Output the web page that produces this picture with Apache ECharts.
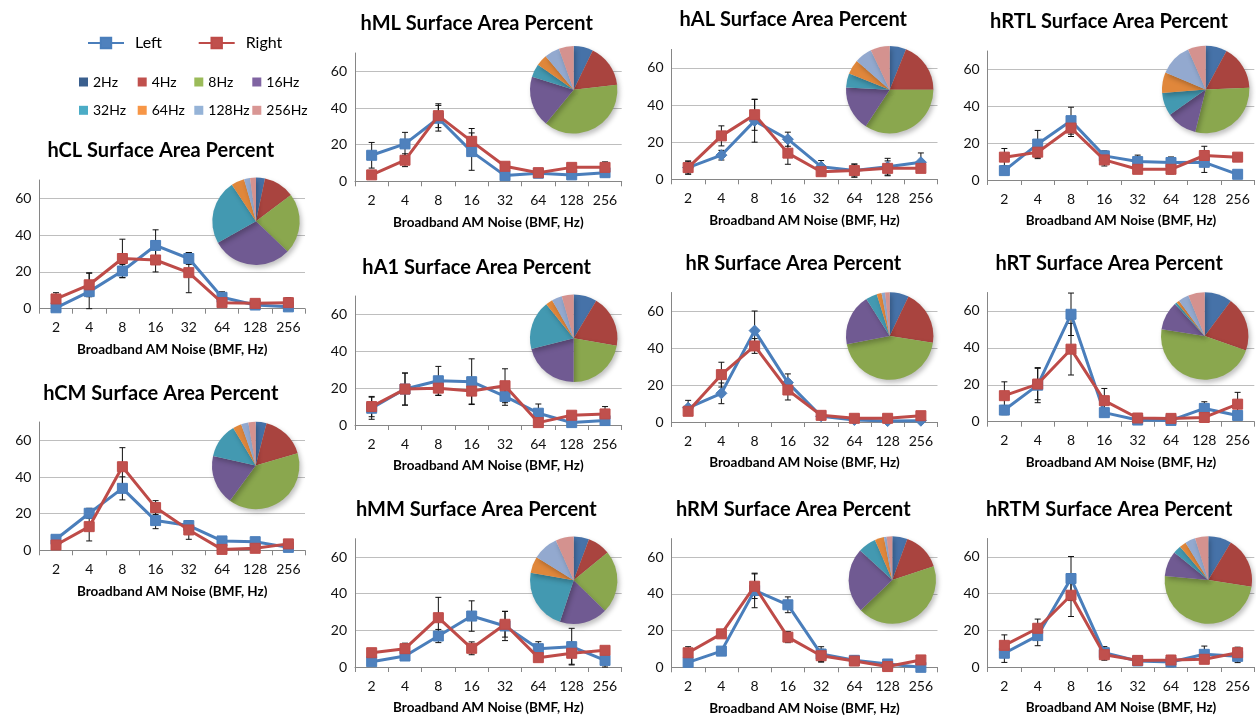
<!DOCTYPE html>
<html><head><meta charset="utf-8">
<script src="https://cdn.jsdelivr.net/npm/echarts@6/dist/echarts.min.js"></script>
<style>html,body{margin:0;padding:0;background:#fff}#c{width:1256px;height:715px}</style>
</head><body><div id="c"></div>
<script>
// ---------- data ----------
const categories = ['2', '4', '8', '16', '32', '64', '128', '256'];
const bandLabels = ['2Hz', '4Hz', '8Hz', '16Hz', '32Hz', '64Hz', '128Hz', '256Hz'];
const seriesNames = ['Left', 'Right'];
const yMin = 0, yMax = 70, yInterval = 20;
const xAxisTitle = 'Broadband AM Noise (BMF, Hz)';
const titleSuffix = ' Surface Area Percent';

const hCL_left = [0.5, 9.3, 20.5, 34.4, 27.3, 6.2, 2.0, 1.0];
const hCL_leftErr = [0.5, 10, 3.5, 8.5, 3.2, 3, 1, 1];
const hCL_right = [5.3, 13.0, 27.3, 26.5, 19.6, 3.3, 2.9, 3.3];
const hCL_rightErr = [3.4, 6.5, 10.5, 6.5, 10.9, 1, 1, 2.7];
const hCL_pie = [3.3, 11.4, 22.4, 29.7, 23.8, 4.9, 2.2, 2.2];

const hCM_left = [6.0, 20.2, 33.8, 16.2, 13.5, 5.1, 4.7, 1.6];
const hCM_leftErr = [1, 2.7, 6.3, 4.4, 2.5, 1, 1, 1];
const hCM_right = [2.9, 12.9, 45.6, 23.3, 11.1, 0.5, 1.1, 3.5];
const hCM_rightErr = [1, 7.8, 10.4, 3.8, 5.1, 0.5, 0.5, 1];
const hCM_pie = [4, 16.5, 39.6, 18.5, 12.9, 3.2, 2.7, 2.7];

const hML_left = [14.2, 20.4, 34.4, 16.2, 3.1, 4.4, 3.5, 4.7];
const hML_leftErr = [7, 6.3, 7, 10.2, 1, 1, 1, 2.2];
const hML_right = [3.5, 11.5, 35.8, 21.8, 8.2, 4.7, 7.6, 7.6];
const hML_rightErr = [1, 3.5, 6.5, 7, 1, 1, 1, 3];
const hML_pie = [7.2, 16, 37.9, 18.9, 4.9, 4.2, 5.6, 5.5];

const hA1_left = [9.1, 19.5, 24.0, 23.5, 15.5, 6.4, 1.3, 2.4];
const hA1_leftErr = [6, 8.7, 7.8, 12.4, 4.8, 5, 1, 1];
const hA1_right = [10.0, 19.5, 20.0, 18.4, 21.3, 1.3, 5.3, 6.0];
const hA1_rightErr = [5.5, 8.7, 4, 7, 9.2, 1, 1, 4];
const hA1_pie = [8.6, 19.1, 22.3, 21, 18.1, 2.6, 3.8, 4.4];

const hMM_left = [2.9, 6.0, 16.9, 27.8, 22.4, 10.0, 11.1, 3.6];
const hMM_leftErr = [1, 1, 3.6, 8.3, 8, 3.8, 10, 3.6];
const hMM_right = [7.8, 10.0, 26.9, 10.2, 23.3, 5.1, 7.5, 9.1];
const hMM_rightErr = [1, 3, 11.1, 3.5, 7, 1, 6, 1];
const hMM_pie = [5.7, 8.4, 23.3, 17.8, 22.7, 6.1, 9.5, 6.7];

const hAL_left = [6.3, 13.0, 31.5, 21.6, 6.8, 4.7, 6.8, 9.2];
const hAL_leftErr = [3.5, 2.6, 11.5, 3.8, 3.3, 3.5, 4.5, 5];
const hAL_right = [6.3, 23.4, 34.8, 14.1, 4.1, 4.7, 5.9, 5.9];
const hAL_rightErr = [3.5, 5.4, 8.4, 6, 1, 3.5, 4, 1];
const hAL_pie = [6.1, 18.9, 34.3, 16.6, 5.2, 5.4, 6.5, 7.1];

const hR_left = [7.7, 15.5, 49.4, 21.3, 3.1, 1.1, 0.5, 0.7];
const hR_leftErr = [4, 5.6, 10.6, 4.7, 1, 0.5, 0.5, 0.5];
const hR_right = [5.8, 25.6, 41.1, 17.3, 3.6, 2.0, 2.0, 3.4];
const hR_rightErr = [2, 6.7, 4, 5.4, 1, 0.5, 0.5, 1];
const hR_pie = [7.1, 20.4, 44.6, 19.1, 4.2, 1.8, 1.3, 1.7];

const hRM_left = [2.7, 8.8, 41.8, 34.0, 7.2, 3.8, 1.8, 0.0];
const hRM_leftErr = [1, 1, 9.4, 4.3, 4, 2.5, 0.5, 0.3];
const hRM_right = [7.9, 18.2, 44.1, 16.4, 6.3, 3.4, 0.4, 4.0];
const hRM_rightErr = [3.3, 1, 6.7, 3, 3.5, 1, 0.4, 1];
const hRM_pie = [5.6, 14.3, 43, 24, 6.7, 3.4, 1, 2.1];

const hRTL_left = [5.1, 19.5, 32.2, 13.1, 10.0, 9.5, 9.6, 3.1];
const hRTL_leftErr = [1, 7.4, 7.3, 2.7, 3.5, 3, 5.5, 1];
const hRTL_right = [12.4, 15.1, 28.2, 10.9, 5.8, 5.8, 13.3, 12.4];
const hRTL_rightErr = [4.7, 3.5, 4.6, 3.3, 1, 2.5, 5, 1];
const hRTL_pie = [7.9, 16.5, 29.5, 11.4, 8.5, 7.6, 12.1, 6.6];

const hRT_left = [6.3, 19.8, 58.2, 4.9, 0.9, 0.7, 7.2, 3.4];
const hRT_leftErr = [2.5, 9.5, 11.5, 1, 0.5, 0.5, 3.6, 1];
const hRT_right = [14.1, 20.4, 39.3, 11.4, 2.0, 1.8, 2.3, 9.5];
const hRT_rightErr = [7.5, 8.5, 14, 6.6, 0.5, 0.5, 0.5, 6.4];
const hRT_pie = [10.2, 20.2, 47.1, 10.6, 0.9, 1.1, 3.9, 6.1];

const hRTM_left = [7.5, 17.1, 48.2, 7.8, 3.3, 2.7, 6.9, 5.8];
const hRTM_leftErr = [5, 5.5, 12, 3.3, 1, 2.5, 4.5, 3.4];
const hRTM_right = [11.8, 21.1, 39.1, 6.7, 3.6, 3.8, 4.2, 7.8];
const hRTM_rightErr = [5.7, 5, 11.6, 3, 0.5, 2.5, 1, 3];
const hRTM_pie = [8.6, 18.9, 49, 9.3, 3, 2.5, 3.8, 4.9];

const panels = [
  {name: 'hCL', left: hCL_left, leftErr: hCL_leftErr, right: hCL_right, rightErr: hCL_rightErr, pie: hCL_pie},
  {name: 'hCM', left: hCM_left, leftErr: hCM_leftErr, right: hCM_right, rightErr: hCM_rightErr, pie: hCM_pie},
  {name: 'hML', left: hML_left, leftErr: hML_leftErr, right: hML_right, rightErr: hML_rightErr, pie: hML_pie},
  {name: 'hA1', left: hA1_left, leftErr: hA1_leftErr, right: hA1_right, rightErr: hA1_rightErr, pie: hA1_pie},
  {name: 'hMM', left: hMM_left, leftErr: hMM_leftErr, right: hMM_right, rightErr: hMM_rightErr, pie: hMM_pie},
  {name: 'hAL', left: hAL_left, leftErr: hAL_leftErr, right: hAL_right, rightErr: hAL_rightErr, pie: hAL_pie},
  {name: 'hR', left: hR_left, leftErr: hR_leftErr, right: hR_right, rightErr: hR_rightErr, pie: hR_pie},
  {name: 'hRM', left: hRM_left, leftErr: hRM_leftErr, right: hRM_right, rightErr: hRM_rightErr, pie: hRM_pie},
  {name: 'hRTL', left: hRTL_left, leftErr: hRTL_leftErr, right: hRTL_right, rightErr: hRTL_rightErr, pie: hRTL_pie},
  {name: 'hRT', left: hRT_left, leftErr: hRT_leftErr, right: hRT_right, rightErr: hRT_rightErr, pie: hRT_pie},
  {name: 'hRTM', left: hRTM_left, leftErr: hRTM_leftErr, right: hRTM_right, rightErr: hRTM_rightErr, pie: hRTM_pie}
];

// ---------- layout & style ----------
const layout = {
  hCL:  {grid: [39.4, 180, 265.6, 128.7], title: [160.8, 150.7], pie: [256, 221.3], marker: 'rect'},
  hCM:  {grid: [39.4, 422, 265.6, 128.3], title: [160.8, 393.3], pie: [255.7, 465.5], marker: 'rect'},
  hML:  {grid: [355, 53, 266.7, 128.3], title: [476.7, 23.3], pie: [573.7, 89.8], marker: 'rect'},
  hA1:  {grid: [355, 296, 266.7, 129], title: [476.7, 267.3], pie: [573.7, 338.3], marker: 'rect'},
  hMM:  {grid: [355, 538.7, 266.7, 128.3], title: [476.3, 510], pie: [573.7, 580.3], marker: 'rect'},
  hAL:  {grid: [671.5, 49.4, 266, 129.9], title: [793.3, 20], pie: [889.7, 89.7], marker: 'diamond'},
  hR:   {grid: [671.5, 292.5, 266, 129.5], title: [793.3, 263.3], pie: [889.7, 336], marker: 'diamond'},
  hRM:  {grid: [671.5, 538.6, 266, 128.7], title: [793.3, 509.3], pie: [892.3, 580], marker: 'rect'},
  hRTL: {grid: [987.7, 51, 266.6, 129], title: [1109, 21.7], pie: [1205.7, 89.5], marker: 'rect'},
  hRT:  {grid: [987.7, 292.5, 266.6, 129.2], title: [1109.2, 263.3], pie: [1204.7, 336], marker: 'rect'},
  hRTM: {grid: [987.7, 538.5, 266.6, 128.5], title: [1109.2, 510], pie: [1208.3, 580], marker: 'rect'}
};
const FONT = 'Lato, "Open Sans", sans-serif';
const blueLine = '#4A7EBB', blueFill = '#4F81BD';
const redLine = '#BE4B48', redFill = '#C0504D';
const pieColors = ['#4672A8', '#A9443F', '#8AA74E', '#705A92', '#4399B1', '#E0873B', '#93A9CF', '#D4928F'];
const legendColors = ['#3A5F8E', '#C0504D', '#9BBB59', '#8064A2', '#4BACC6', '#F79646', '#95B3D7', '#D99694'];
const pieRadius = 43.7;
const legendCols = [79, 137.7, 194.3, 252.3];
const legendRows = [81, 109.3];

// ---------- build ----------
function errRender(params, api) {
  const x = api.value(0), v = api.value(1), e = api.value(2);
  const hi = api.coord([x, Math.min(yMax, v + e)]);
  const lo = api.coord([x, Math.max(yMin, v - e)]);
  const hw = 3;
  const st = {stroke: '#111', lineWidth: 1};
  return {type: 'group', children: [
    {type: 'line', shape: {x1: hi[0], y1: hi[1], x2: lo[0], y2: lo[1]}, style: st},
    {type: 'line', shape: {x1: hi[0] - hw, y1: hi[1], x2: hi[0] + hw, y2: hi[1]}, style: st},
    {type: 'line', shape: {x1: lo[0] - hw, y1: lo[1], x2: lo[0] + hw, y2: lo[1]}, style: st}
  ]};
}

const grids = [], xAxes = [], yAxes = [], titles = [], series = [];
panels.forEach((p, i) => {
  const L = layout[p.name];
  grids.push({left: L.grid[0], top: L.grid[1], width: L.grid[2], height: L.grid[3], outerBoundsMode: 'none', containLabel: false});
  titles.push({
    text: p.name + titleSuffix, left: L.title[0], top: L.title[1] - 10, textAlign: 'center', padding: 0,
    textStyle: {fontFamily: FONT, fontSize: 20, fontWeight: 'bold', color: '#000'}
  });
  xAxes.push({
    type: 'category', gridIndex: i, data: categories, boundaryGap: true,
    axisLine: {show: true, lineStyle: {color: '#868686', width: 1}},
    axisTick: {show: true, length: 5, lineStyle: {color: '#868686'}},
    axisLabel: {interval: 0, margin: 12, fontFamily: FONT, fontSize: 14, color: '#111'},
    splitLine: {show: false},
    name: xAxisTitle, nameLocation: 'middle', nameGap: 34,
    nameTextStyle: {fontFamily: FONT, fontSize: 13.5, fontWeight: 'bold', color: '#000'}
  });
  yAxes.push({
    type: 'value', gridIndex: i, min: yMin, max: yMax, interval: yInterval,
    axisLine: {show: true, lineStyle: {color: '#868686', width: 1}},
    axisTick: {show: false},
    axisLabel: {showMaxLabel: false, margin: 8, fontFamily: FONT, fontSize: 14, color: '#111'},
    splitLine: {show: true, showMaxLine: false, showMinLine: false, lineStyle: {color: '#BEBEBE', width: 1}}
  });
  // error bars
  series.push({
    type: 'custom', xAxisIndex: i, yAxisIndex: i, z: 2, silent: true, renderItem: errRender,
    encode: {x: 0, y: 1}, data: categories.map((c, j) => [j, p.left[j], p.leftErr[j]])
  });
  series.push({
    type: 'custom', xAxisIndex: i, yAxisIndex: i, z: 2, silent: true, renderItem: errRender,
    encode: {x: 0, y: 1}, data: categories.map((c, j) => [j, p.right[j], p.rightErr[j]])
  });
  series.push({
    name: seriesNames[0], type: 'line', xAxisIndex: i, yAxisIndex: i, z: 3,
    data: p.left, symbol: L.marker, symbolSize: L.marker === 'diamond' ? 11 : 10,
    lineStyle: {color: blueLine, width: 3}, itemStyle: {color: blueFill, borderColor: blueLine, borderWidth: 1},
    emphasis: {disabled: true}
  });
  series.push({
    name: seriesNames[1], type: 'line', xAxisIndex: i, yAxisIndex: i, z: 4,
    data: p.right, symbol: 'rect', symbolSize: 10,
    lineStyle: {color: redLine, width: 3}, itemStyle: {color: redFill, borderColor: redLine, borderWidth: 1},
    emphasis: {disabled: true}
  });
  series.push({
    type: 'pie', name: p.name + ' pie', center: L.pie, radius: pieRadius, startAngle: 90, clockwise: true,
    color: pieColors, silent: true, label: {show: false}, labelLine: {show: false},
    itemStyle: {borderWidth: 0, shadowBlur: 5, shadowOffsetX: 2, shadowOffsetY: 3, shadowColor: 'rgba(0,0,0,0.25)'},
    data: bandLabels.map((n, j) => ({name: n, value: p.pie[j]})), z: 5
  });
});

const legends = [
  {data: [seriesNames[0]], left: 87, top: 35, padding: 0, itemWidth: 36, itemHeight: 13,
   textStyle: {fontFamily: FONT, fontSize: 16, color: '#000', padding: [0, 0, 0, 6]}},
  {data: [seriesNames[1]], left: 197.7, top: 35, padding: 0, itemWidth: 36, itemHeight: 13,
   textStyle: {fontFamily: FONT, fontSize: 16, color: '#000', padding: [0, 0, 0, 6]}}
];
bandLabels.forEach((n, j) => {
  legends.push({
    data: [{name: n, itemStyle: {color: legendColors[j]}}], icon: 'rect', itemWidth: 9, itemHeight: 9,
    left: legendCols[j % 4], top: legendRows[Math.floor(j / 4)] - 6, padding: 0,
    textStyle: {fontFamily: FONT, fontSize: 14, color: '#000'}
  });
});

const chart = echarts.init(document.getElementById('c'), null, {renderer: 'canvas'});
chart.setOption({
  animation: false, backgroundColor: '#fff',
  title: titles, legend: legends, grid: grids, xAxis: xAxes, yAxis: yAxes, series: series
});
</script></body></html>
